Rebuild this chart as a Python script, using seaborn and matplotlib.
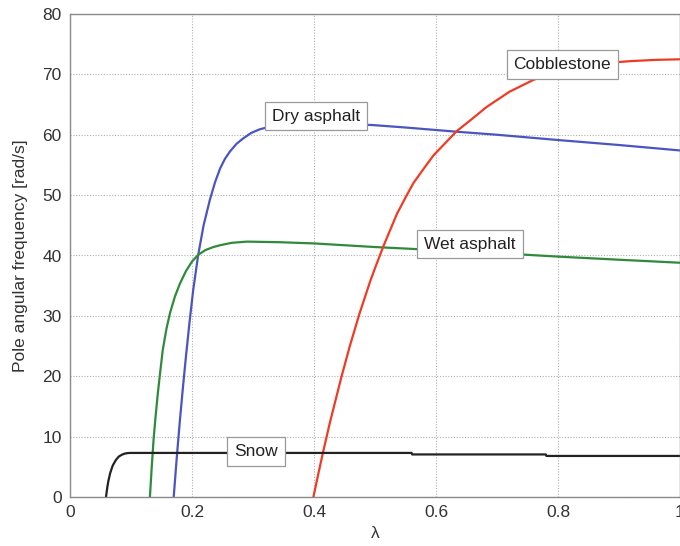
import numpy as np
import pandas as pd
import matplotlib
matplotlib.use("Agg")
import matplotlib.pyplot as plt
import seaborn as sns

# ---- data ----
dry_x = [0.170, 0.175, 0.180, 0.185, 0.190, 0.196, 0.202, 0.210, 0.219, 0.2295, 0.238,
         0.246, 0.254, 0.262, 0.273, 0.284, 0.297, 0.311, 0.330, 0.360, 0.400, 0.450,
         0.497, 0.550, 0.634, 0.700, 0.803, 0.900, 1.000]
dry_y = [0, 6.5, 12.5, 18, 23.2, 29, 34.3, 40, 45, 49.3, 52.2,
         54.4, 56.0, 57.2, 58.5, 59.4, 60.3, 60.9, 61.4, 61.8, 61.9, 61.8,
         61.6, 61.2, 60.5, 60.0, 59.1, 58.3, 57.4]

wet_x = [0.131, 0.134, 0.137, 0.140, 0.144, 0.148, 0.152, 0.158, 0.164, 0.172, 0.180,
         0.190, 0.200, 0.210, 0.222, 0.235, 0.246, 0.265, 0.290, 0.344, 0.400, 0.500,
         0.600, 0.700, 0.803, 0.900, 1.000]
wet_y = [0, 5, 9.5, 13, 17.2, 20.8, 24.3, 27.8, 30.5, 33.2, 35.3,
         37.4, 39.0, 40.1, 40.9, 41.4, 41.7, 42.1, 42.3, 42.2, 42.0, 41.4,
         40.9, 40.4, 39.8, 39.3, 38.8]

cob_x = [0.399, 0.407, 0.415, 0.426, 0.435, 0.445, 0.459, 0.475, 0.492, 0.500, 0.514,
         0.536, 0.550, 0.563, 0.580, 0.596, 0.615, 0.634, 0.660, 0.683, 0.720, 0.760,
         0.800, 0.840, 0.880, 0.920, 0.960, 1.000]
cob_y = [0, 3.8, 7.5, 12.3, 15.9, 19.9, 25.1, 30.5, 35.7, 37.9, 41.6,
         46.9, 49.6, 52.0, 54.4, 56.6, 58.6, 60.6, 62.7, 64.6, 67.1, 69.1,
         70.5, 71.4, 71.9, 72.2, 72.4, 72.5]

snow_x = [0.059, 0.061, 0.063, 0.066, 0.070, 0.075, 0.080, 0.085, 0.090, 0.095, 0.100,
          0.200, 0.300, 0.400, 0.500, 0.560, 0.561, 0.780, 0.781, 0.900, 1.000]
snow_y = [0, 1.5, 2.7, 4, 5.2, 6.1, 6.7, 7.0, 7.2, 7.28, 7.3,
          7.3, 7.3, 7.3, 7.3, 7.3, 7.05, 7.05, 6.8, 6.8, 6.8]

surfaces = ["Dry asphalt", "Wet asphalt", "Cobblestone", "Snow"]
colors = ["#4a55c0", "#2f8a3c", "#f03a24", "#222222"]
label_pos = {"Dry asphalt": (0.403, 63.1), "Wet asphalt": (0.656, 41.9),
             "Cobblestone": (0.807, 71.7), "Snow": (0.305, 7.6)}

x_ticks = [0, 0.2, 0.4, 0.6, 0.8, 1]
x_ticklabels = ["0", "0.2", "0.4", "0.6", "0.8", "1"]
y_ticks = [0, 10, 20, 30, 40, 50, 60, 70, 80]

frames = []
for name, xs, ys in [("Dry asphalt", dry_x, dry_y), ("Wet asphalt", wet_x, wet_y),
                     ("Cobblestone", cob_x, cob_y), ("Snow", snow_x, snow_y)]:
    frames.append(pd.DataFrame({"lam": xs, "omega": ys, "surface": name}))
df = pd.concat(frames, ignore_index=True)

sns.set_style("white")
plt.rcParams["font.family"] = ["Liberation Sans", "DejaVu Sans"]

fig = plt.figure(figsize=(6.8, 5.46), dpi=100)
ax = fig.add_axes([70 / 680, 49 / 546, 610 / 680, 483 / 546])

sns.lineplot(data=df, x="lam", y="omega", hue="surface", hue_order=surfaces,
             palette=dict(zip(surfaces, colors)), sort=False, estimator=None,
             linewidth=1.6, legend=False, ax=ax)
for line in ax.lines:
    line.set_solid_joinstyle("round")

ax.set_xlim(0, 1)
ax.set_ylim(0, 80)
ax.set_xticks(x_ticks)
ax.set_xticklabels(x_ticklabels)
ax.set_yticks(y_ticks)
ax.grid(True, linestyle=(0, (1, 1.5)), color="#b0b0b0", linewidth=0.8)
ax.set_axisbelow(True)
for s in ax.spines.values():
    s.set_color("#8a8a8a")
    s.set_linewidth(1.0)
ax.tick_params(direction="in", length=4, color="#8a8a8a", labelsize=12.5,
               labelcolor="#333333", pad=6)
ax.set_xlabel("λ", fontsize=12.5, color="#333333", labelpad=4)
ax.set_ylabel("Pole angular frequency [rad/s]", fontsize=12.5, color="#333333", labelpad=10)

for name in surfaces:
    x, y = label_pos[name]
    ax.text(x, y, name, ha="center", va="center", fontsize=12.5, color="#222222",
            bbox=dict(boxstyle="square,pad=0.4", facecolor="white", edgecolor="#999999",
                      linewidth=0.9), zorder=5)

fig.savefig("out.png", dpi=100)
